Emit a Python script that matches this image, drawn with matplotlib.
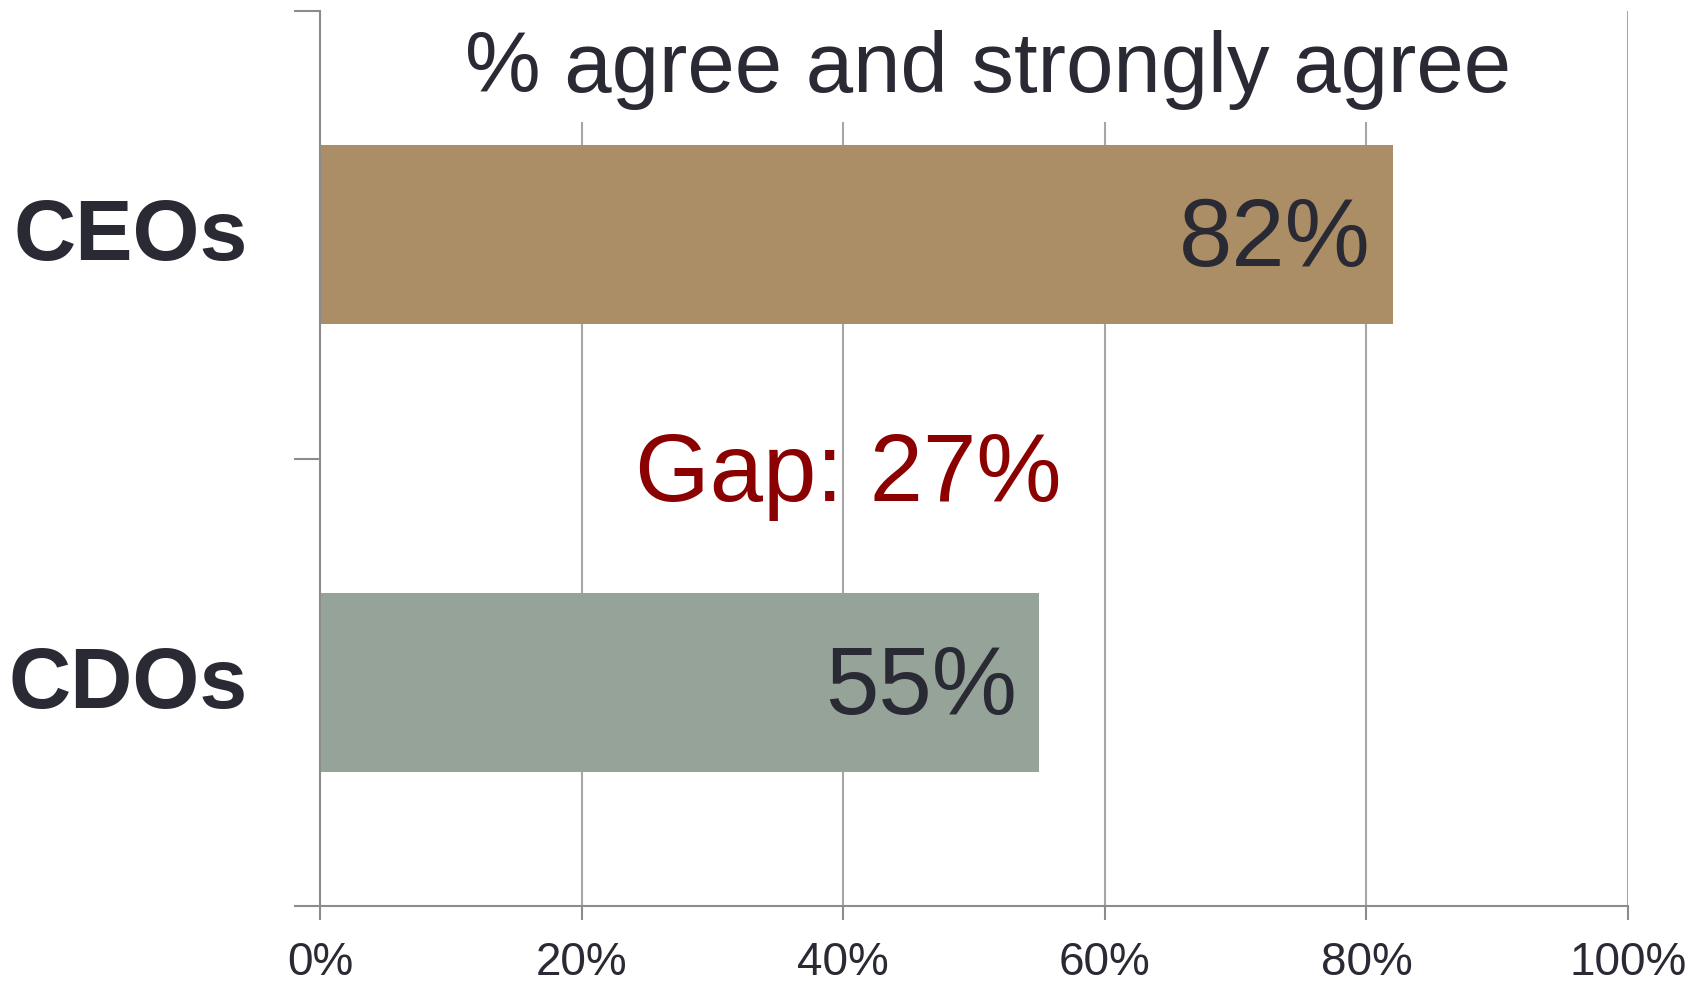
import matplotlib
matplotlib.use("Agg")
import matplotlib.pyplot as plt
from matplotlib.ticker import FixedLocator
from matplotlib.transforms import ScaledTranslation
from matplotlib.patches import Rectangle

plt.rcParams['font.family'] = ['Liberation Sans', 'DejaVu Sans']

# ---- data ----
categories = ["CDOs", "CEOs"]
values = [55, 82]
bar_colors = ["#95A399", "#AB8D66"]
x_ticks = [0, 20, 40, 60, 80, 100]
x_tick_labels = [f"{t}%" for t in x_ticks]
title_text = "% agree and strongly agree"
gap_text = f"Gap: {values[1] - values[0]}%"

TEXT = "#2A2A35"
GRID = "#A6A6A6"
SPINE = "#8C8C8C"

fig = plt.figure(figsize=(17.03, 9.83), dpi=100)
ax = fig.add_axes([320 / 1703, 1 - 906 / 983, 1308 / 1703, 895 / 983])

ypos = list(range(len(categories)))
ax.barh(ypos, values, height=0.4, color=bar_colors, zorder=2)

ax.set_xlim(0, 100)
ax.set_ylim(-0.5, len(categories) - 0.5)

# x axis
ax.set_xticks(x_ticks)
ax.set_xticklabels(x_tick_labels, fontsize=33, color=TEXT)
ax.tick_params(axis='x', length=10, width=1.5, color=SPINE, pad=15)
ax.grid(axis='x', color=GRID, linewidth=1.5, zorder=0)
ax.set_axisbelow(True)

# y axis
ax.set_yticks(ypos)
ax.set_yticklabels(categories, fontsize=62, fontweight='bold', color=TEXT)
ax.tick_params(axis='y', which='major', length=0, pad=52)
ax.yaxis.set_minor_locator(FixedLocator([p - 0.5 for p in ypos] + [ypos[-1] + 0.5]))
ax.tick_params(axis='y', which='minor', length=18.7, width=1.5, color=SPINE)
shift = ScaledTranslation(0, 0.055, fig.dpi_scale_trans)
for lab in ax.get_yticklabels():
    lab.set_transform(lab.get_transform() + shift)

for s in ['top', 'right']:
    ax.spines[s].set_visible(False)
for s in ['left', 'bottom']:
    ax.spines[s].set_color(SPINE)
    ax.spines[s].set_linewidth(1.5)

# value labels
for y, v in zip(ypos, values):
    ax.annotate(f"{v}%", xy=(v, y), xytext=(-16, 2.5), textcoords='offset points',
                ha='right', va='center_baseline', fontsize=69, color=TEXT, zorder=3)

# gap annotation
ax.text(40.4, 0.404, gap_text, ha='center', va='baseline', fontsize=69,
        color="#8B0000", zorder=3)

# title inside plot
title = ax.text(51.1, 1.319, title_text, ha='center', va='baseline', fontsize=61.3,
                color=TEXT, zorder=3)

# white backdrop behind the title that hides gridlines above its bottom
fig.canvas.draw()
bb = title.get_window_extent()
inv = ax.transAxes.inverted()
(x0, y0) = inv.transform((bb.x0 - 10, bb.y0 - 12))
(x1, _) = inv.transform((bb.x1 + 10, bb.y1))
ax.add_patch(Rectangle((x0, y0), x1 - x0, 1.05 - y0, transform=ax.transAxes,
                       facecolor='white', edgecolor='none', zorder=1, clip_on=False))

fig.savefig("out.png", dpi=100, facecolor='white')
